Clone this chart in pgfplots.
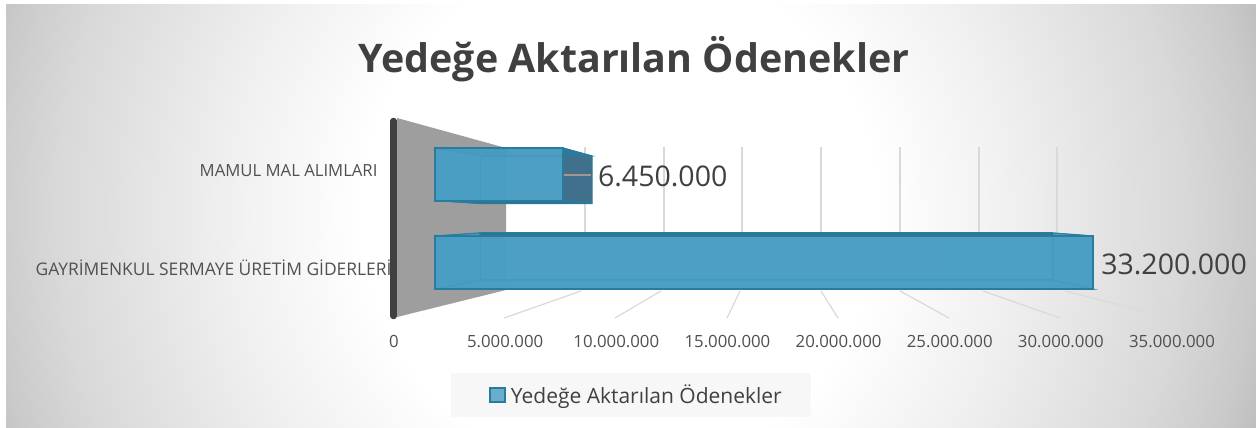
\documentclass[border=0pt]{standalone}
\usepackage{pgfplots}
\pgfplotsset{compat=1.18}
\usepackage{fontspec}
\setmainfont{Open Sans}
\definecolor{barfill}{HTML}{4A9FC4}
\definecolor{baredge}{HTML}{2A7C9E}
\definecolor{bardark}{HTML}{2F6F8F}
\definecolor{sidedark}{HTML}{41708C}
\definecolor{txt}{HTML}{404040}
\definecolor{axtxt}{HTML}{505050}
\definecolor{leader}{HTML}{A8948C}
\definecolor{gridc}{HTML}{D9D9D9}
\pgfdeclareradialshading{bgshade}{\pgfpoint{0bp}{0bp}}{color(0bp)=(white);color(19bp)=(white);color(29bp)=(white!94!black);color(41.5bp)=(white!85!black);color(47bp)=(white!79!black);color(50bp)=(white!74!black)}
\pgfplotsset{
  pxaxis/.style={scale only axis,width=1256pt,height=428pt,at={(0pt,0pt)},anchor=south west,
    xmin=0,xmax=1256,ymin=0,ymax=428,y dir=reverse,axis lines=none,clip=false},
  baraxis/.style={scale only axis,xbar,y dir=reverse,ymin=118,ymax=318,height=200pt,
    xmin=0,xmax=35000000,axis lines=none,clip=false,anchor=south west,bar shift=0pt}
}
\begin{document}
\begin{tikzpicture}[x=1pt,y=1pt]
\useasboundingbox (0,0) rectangle (1256,428);
\fill[white] (0,0) rectangle (1256,428);
\begin{scope}
\clip (6,0) rectangle (1256,423);
\pgftransformcm{13.5}{0}{0}{13.5}{\pgfpoint{620pt}{214pt}}
\pgflowlevelsynccm
\pgfuseshading{bgshade}
\end{scope}
% wall, grid
\begin{axis}[pxaxis]
\addplot[fill=white!62!black,draw=none] coordinates {(397,118)(506,148)(506,290)(397,317)} -- cycle;
\addplot[draw=gridc,line width=1.4pt] coordinates {(585,147)(585,233)};
\addplot[draw=gridc,line width=1.4pt] coordinates {(664,147)(664,233)};
\addplot[draw=gridc,line width=1.4pt] coordinates {(742,147)(742,233)};
\addplot[draw=gridc,line width=1.4pt] coordinates {(821,147)(821,233)};
\addplot[draw=gridc,line width=1.4pt] coordinates {(900,147)(900,233)};
\addplot[draw=gridc,line width=1.4pt] coordinates {(979,147)(979,233)};
\addplot[draw=gridc,line width=1.4pt] coordinates {(1057,147)(1057,233)};
\addplot[draw=gridc,line width=1.2pt] coordinates {(581,291)(504,318)};
\addplot[draw=gridc,line width=1.2pt] coordinates {(661,291)(615,318)};
\addplot[draw=gridc,line width=1.2pt] coordinates {(740,291)(727,318)};
\addplot[draw=gridc,line width=1.2pt] coordinates {(821,291)(838,318)};
\addplot[draw=gridc,line width=1.2pt] coordinates {(900,291)(949,318)};
\addplot[draw=gridc,line width=1.2pt] coordinates {(983,291)(1060,318)};
\addplot[draw=white!86!black,line width=1.2pt] coordinates {(1065,291)(1172,318)};
\addplot[draw=txt,line width=6.5pt,line cap=round] coordinates {(393.5,121)(393.5,316)};
\end{axis}
% tick axis
\begin{axis}[scale only axis,at={(394pt,110pt)},anchor=south west,width=778pt,height=200pt,
  xmin=0,xmax=35000000,ymin=0,ymax=1,axis y line=none,axis x line*=bottom,
  x axis line style={draw=none},major tick length=0pt,
  xtick={0,5000000,10000000,15000000,20000000,25000000,30000000,35000000},
  xticklabels={0,5.000.000,10.000.000,15.000.000,20.000.000,25.000.000,30.000.000,35.000.000},
  scaled x ticks=false,
  xticklabel style={font=\fontsize{16.8}{20}\selectfont,text=axtxt,yshift=-14pt},
  /pgf/number format/assume math mode=true]
\addplot[draw=none] coordinates {(0,0)(35000000,1)};
\end{axis}
% back faces
\begin{axis}[baraxis,at={(480pt,110pt)},width=603.75pt]
\addplot[fill=barfill,fill opacity=.9,draw=baredge,line width=1.2pt,bar width=47pt] coordinates {(6450000,179.5)};
\addplot[fill=barfill,fill opacity=.9,draw=baredge,line width=1.2pt,bar width=47pt] coordinates {(33200000,256.5)};
\end{axis}
% sides
\begin{axis}[pxaxis]
\addplot[fill=sidedark,draw=baredge,line width=1pt] coordinates {(563,148)(592,156)(592,203.5)(563,200.5)} -- cycle;
\addplot[fill=baredge,fill opacity=.75,draw=baredge,line width=1pt] coordinates {(435,148)(563,148)(592,156)(480,156)} -- cycle;
\addplot[fill=barfill,fill opacity=.95,draw=baredge,line width=1pt] coordinates {(435,148)(480,156)(480,203.5)(435,200.5)} -- cycle;
\addplot[fill=bardark,fill opacity=.9,draw=baredge,line width=1pt] coordinates {(435,200.5)(563,200.5)(592,203.5)(480,203.5)} -- cycle;
\addplot[fill=bardark,fill opacity=.9,draw=baredge,line width=1pt] coordinates {(435,236)(1093,236)(1053,233)(480,233)} -- cycle;
\addplot[fill=barfill,fill opacity=.95,draw=baredge,line width=1pt] coordinates {(435,289)(1093,289)(1053,280)(480,280)} -- cycle;
\addplot[fill=barfill,fill opacity=.95,draw=baredge,line width=1pt] coordinates {(435,236)(480,233)(480,280)(435,289)} -- cycle;
\addplot[fill=barfill,fill opacity=.95,draw=baredge,line width=1pt] coordinates {(1093,236)(1053,233)(1053,280)(1093,289)} -- cycle;
\addplot[draw=leader,line width=1.5pt] coordinates {(564,175)(591,175)};
\end{axis}
% front faces, labels, legend
\begin{axis}[baraxis,at={(435pt,110pt)},width=693.7pt,
  legend style={at={(rel axis cs:0.2825,-0.385)},anchor=center,fill=white!97!black,draw=none,
    font=\fontsize{21}{25}\selectfont,text=txt,inner xsep=27pt,inner ysep=10pt,
    legend cell align=left},
  legend image code/.code={\path (-19pt,0pt) (10pt,0pt);\draw[fill=barfill,draw=baredge,line width=1.6pt] (-8pt,-7pt) rectangle (7pt,7pt);},
  ytick={171,268},yticklabels={}]
\addplot[fill=barfill,fill opacity=.82,draw=baredge,line width=1.8pt,bar width=53pt,
  point meta=explicit symbolic,nodes near coords,
  every node near coord/.append style={font=\fontsize{28.5}{34}\selectfont,text=txt,opacity=1,anchor=west,xshift=31pt,yshift=-1.5pt}]
  coordinates {(6450000,174.5)[6.450.000]};
\addlegendentry{Yedeğe Aktarılan Ödenekler}
\addplot[fill=barfill,fill opacity=.82,draw=baredge,line width=1.8pt,bar width=53pt,forget plot,
  point meta=explicit symbolic,nodes near coords,
  every node near coord/.append style={font=\fontsize{28.5}{34}\selectfont,text=txt,opacity=1,anchor=west,xshift=4pt,yshift=-1.5pt}]
  coordinates {(33200000,262.5)[33.200.000]};
\end{axis}
% category labels + title
\begin{axis}[scale only axis,at={(394pt,110pt)},anchor=south west,width=778pt,height=200pt,
  xmin=0,xmax=35000000,ymin=118,ymax=318,y dir=reverse,axis x line=none,axis y line*=left,
  y axis line style={draw=none},major tick length=0pt,
  ytick={171,268},yticklabels={{\fontsize{16.7}{20}\selectfont MAMUL MAL ALIMLARI\hspace*{14pt}},GAYRİMENKUL SERMAYE ÜRETİM GİDERLERİ},
  yticklabel style={font=\fontsize{17.4}{20}\selectfont,text=axtxt,anchor=east,xshift=1pt}]
\addplot[draw=none] coordinates {(0,118)(35000000,318)};
\end{axis}
\node[font=\fontsize{39.4}{46}\bfseries\selectfont,text=txt] at (634,369) {Yedeğe Aktarılan Ödenekler};
\end{tikzpicture}
\end{document}
